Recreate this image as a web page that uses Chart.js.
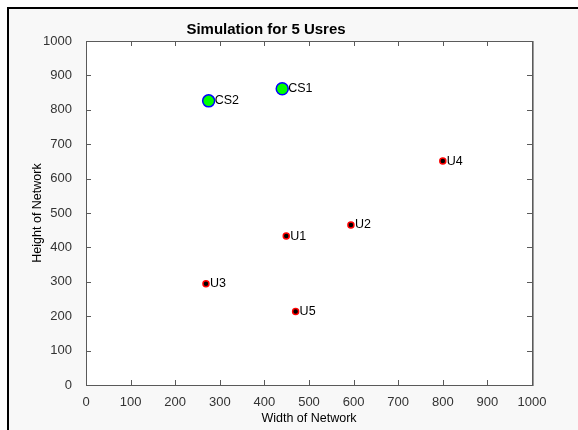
<!DOCTYPE html>
<html>
<head>
<meta charset="utf-8">
<script src="https://cdn.jsdelivr.net/npm/chart.js@4/dist/chart.umd.min.js"></script>
<style>
  html, body { margin: 0; padding: 0; background: #ffffff; }
  #wrap { width: 578px; height: 430px; }
</style>
</head>
<body>
<div id="wrap"><canvas id="c" width="578" height="430"></canvas></div>
<script>
// ---- data ----
const csLabels = ['CS1', 'CS2'];
const csX = [440, 275];
const csY = [861, 826];

const userLabels = ['U1', 'U2', 'U3', 'U4', 'U5'];
const userX = [449, 594, 269, 800, 470];
const userY = [433, 465, 294, 651, 214];

const xTicks = [0, 100, 200, 300, 400, 500, 600, 700, 800, 900, 1000];
const yTicks = [0, 100, 200, 300, 400, 500, 600, 700, 800, 900, 1000];

const titleText = 'Simulation for 5 Usres';
const xTitle = 'Width of Network';
const yTitle = 'Height of Network';

const FONT = "'Liberation Sans', Arial, Helvetica, sans-serif";

function toPoints(xs, ys) { return xs.map((x, i) => ({ x: x, y: ys[i] })); }

const framePlugin = {
  id: 'frame',
  beforeDraw(chart) {
    const ctx = chart.ctx;
    const W = chart.width, H = chart.height;
    ctx.save();
    ctx.fillStyle = '#ffffff';
    ctx.fillRect(0, 0, W, H);
    ctx.fillStyle = '#f8f8f8';
    ctx.fillRect(9, 9, W - 9, H - 9);
    ctx.fillStyle = '#000000';
    ctx.fillRect(7, 7, W - 7, 2);
    ctx.fillRect(7, 7, 2, H - 7);
    const a = chart.chartArea;
    ctx.fillStyle = '#ffffff';
    ctx.fillRect(a.left, a.top, a.right - a.left, a.bottom - a.top);
    ctx.restore();
  },
  beforeDatasetsDraw(chart) {
    const ctx = chart.ctx;
    const a = chart.chartArea;
    const xs = chart.scales.x, ys = chart.scales.y;
    const L = 5;
    ctx.save();
    ctx.strokeStyle = '#5a5a5a';
    ctx.lineWidth = 1;
    ctx.beginPath();
    xTicks.forEach(v => {
      const px = Math.round(xs.getPixelForValue(v)) + 0.5;
      ctx.moveTo(px, a.bottom); ctx.lineTo(px, a.bottom - L);
      ctx.moveTo(px, a.top); ctx.lineTo(px, a.top + L);
    });
    yTicks.forEach(v => {
      const py = Math.round(ys.getPixelForValue(v)) + 0.5;
      ctx.moveTo(a.left, py); ctx.lineTo(a.left + L, py);
      ctx.moveTo(a.right, py); ctx.lineTo(a.right - L, py);
    });
    ctx.stroke();
    ctx.strokeStyle = '#5a5a5a';
    ctx.strokeRect(Math.round(a.left) + 0.5, Math.round(a.top) + 0.5,
                   Math.round(a.right - a.left), Math.round(a.bottom - a.top));
    ctx.strokeStyle = '#9a9a9a';
    ctx.beginPath();
    ctx.moveTo(Math.round(a.right) + 1.5, a.top);
    ctx.lineTo(Math.round(a.right) + 1.5, a.bottom + 1);
    ctx.stroke();
    ctx.restore();
  },
  afterDatasetsDraw(chart) {
    const ctx = chart.ctx;
    ctx.save();
    ctx.font = '12.5px ' + FONT;
    ctx.fillStyle = '#000000';
    ctx.textBaseline = 'middle';
    ctx.textAlign = 'left';
    chart.data.datasets.forEach((ds, di) => {
      const meta = chart.getDatasetMeta(di);
      meta.data.forEach((el, i) => {
        ctx.fillText(ds.pointLabels[i], el.x + ds.labelOffset, el.y);
      });
    });
    ctx.restore();
  }
};

new Chart(document.getElementById('c'), {
  type: 'scatter',
  data: {
    datasets: [
      {
        label: 'CS',
        data: toPoints(csX, csY),
        pointLabels: csLabels,
        labelOffset: 6,
        pointRadius: 6,
        pointBackgroundColor: '#00ff00',
        pointBorderColor: '#0000ff',
        pointBorderWidth: 1.5
      },
      {
        label: 'Users',
        data: toPoints(userX, userY),
        pointLabels: userLabels,
        labelOffset: 4,
        pointRadius: 3,
        pointBackgroundColor: '#000000',
        pointBorderColor: '#ff0000',
        pointBorderWidth: 1.5
      }
    ]
  },
  options: {
    responsive: false,
    animation: false,
    devicePixelRatio: 1,
    layout: { padding: { left: 0, right: 46, top: 0, bottom: 0 } },
    plugins: {
      legend: { display: false },
      tooltip: { enabled: false },
      title: {
        display: true,
        text: titleText,
        color: '#000000',
        font: { family: FONT, size: 15, weight: 'bold', lineHeight: 1.2 },
        padding: { top: 21, bottom: 2 }
      }
    },
    scales: {
      x: {
        type: 'linear',
        min: 0, max: 1000,
        grid: { display: false },
        border: { display: false },
        afterBuildTicks(s) { s.ticks = xTicks.map(v => ({ value: v })); },
        ticks: {
          color: '#333333',
          padding: 2,
          maxRotation: 0,
          autoSkip: false,
          font: { family: FONT, size: 13 },
          callback: (v) => String(v)
        },
        title: {
          display: true,
          text: xTitle,
          color: '#000000',
          font: { family: FONT, size: 12.5 },
          padding: { top: 0, bottom: 4 }
        },
        afterFit(s) { s.height = 45; }
      },
      y: {
        type: 'linear',
        min: 0, max: 1000,
        grid: { display: false },
        border: { display: false },
        afterBuildTicks(s) { s.ticks = yTicks.map(v => ({ value: v })); },
        ticks: {
          color: '#333333',
          padding: 6,
          autoSkip: false,
          font: { family: FONT, size: 13 },
          callback: (v) => String(v)
        },
        title: {
          display: true,
          text: yTitle,
          color: '#000000',
          font: { family: FONT, size: 12.5 },
          padding: { top: 30, bottom: 0 }
        },
        afterFit(s) { s.width = 86; }
      }
    }
  },
  plugins: [framePlugin]
});
</script>
</body>
</html>
